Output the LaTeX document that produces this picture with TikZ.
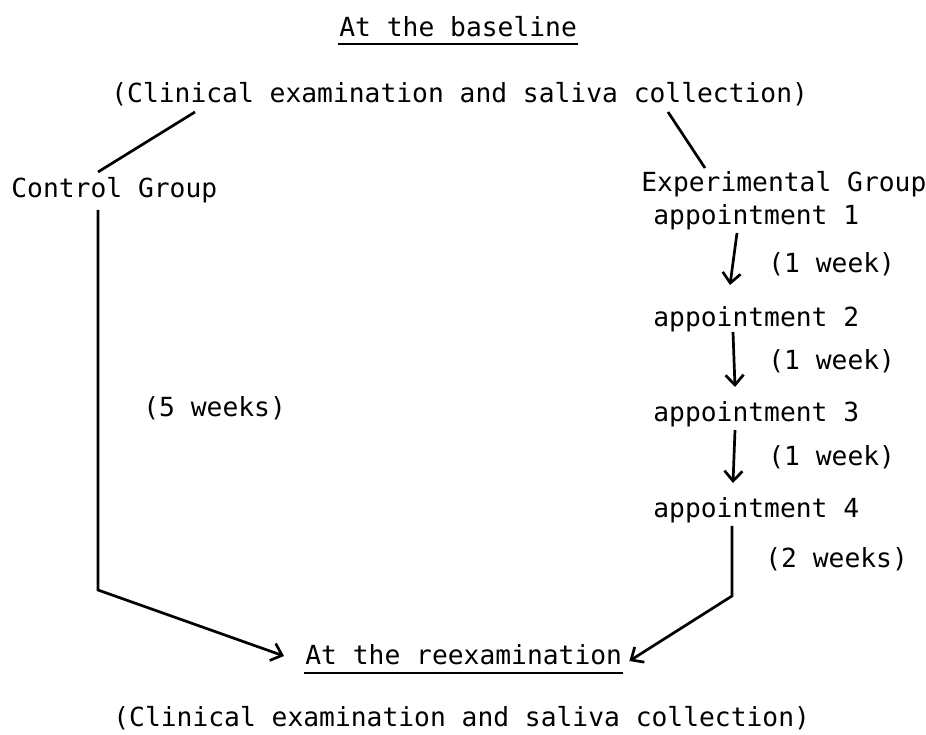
\documentclass[tikz,border=0pt]{standalone}
\usepackage{fontspec}
\setmonofont{DejaVu Sans Mono}
\usetikzlibrary{calc, arrows.meta}

\begin{document}
\begin{tikzpicture}[
    x=1pt, y=1pt,
    >={Straight Barb[length=10pt, width=18pt]},
    line width=2.7pt,
    font=\ttfamily\fontsize{26.3}{30}\selectfont,
    every node/.style={inner sep=0pt, anchor=base west},
    rule/.style={line width=1.8pt}
]
    \useasboundingbox (0,0) rectangle (926,734);

    % Baseline heading
    \node (head) at (338,697) {At the baseline};
    \draw[rule] ([yshift=-7pt]head.base west) -- ([yshift=-7pt]head.base east);
    \node (exam1) at (110,631) {(Clinical examination and saliva collection)};

    % Groups
    \node (ctrl) at (10,536) {Control Group};
    \node (expg) at (640,542) {Experimental Group};
    \draw ([shift={(85,-9)}]exam1.base west) -- ([shift={(88,26)}]ctrl.base west);
    \draw ([shift={(558,-9)}]exam1.base west) -- ([shift={(65,24)}]expg.base west);

    % Experimental appointments
    \node (app1) at (652,509) {appointment 1};
    \node (app2) at (652,407) {appointment 2};
    \node (app3) at (652,312) {appointment 3};
    \node (app4) at (652,216) {appointment 4};
    \node (wk1) at (767,461) {(1 week)};
    \node (wk2) at (767,364) {(1 week)};
    \node (wk3) at (767,268) {(1 week)};
    \node (wk4) at (764,167) {(2 weeks)};
    \draw[->] ([shift={(85,-8)}]app1.base west) -- ([shift={(78,42)}]app2.base west);
    \draw[->] ([shift={(81,-5)}]app2.base west) -- ([shift={(83,35)}]app3.base west);
    \draw[->] ([shift={(83,-8)}]app3.base west) -- ([shift={(81,35)}]app4.base west);

    % Control interval
    \node (five) at (142,317) {(5 weeks)};

    % Reexamination
    \node (reexam) at (304,70) {At the reexamination};
    \draw[rule] ([yshift=-9pt]reexam.base west) -- ([yshift=-9pt]reexam.base east);
    \node (exam2) at (112,8) {(Clinical examination and saliva collection)};

    \draw[->] ([shift={(88,-12)}]ctrl.base west) -- ++(0,-380)
        -- ([shift={(-20,8)}]reexam.base west);
    \draw[->] ([shift={(80,-8)}]app4.base west) -- ++(0,-70)
        -- ([shift={(6,3)}]reexam.base east);

\end{tikzpicture}
\end{document}
